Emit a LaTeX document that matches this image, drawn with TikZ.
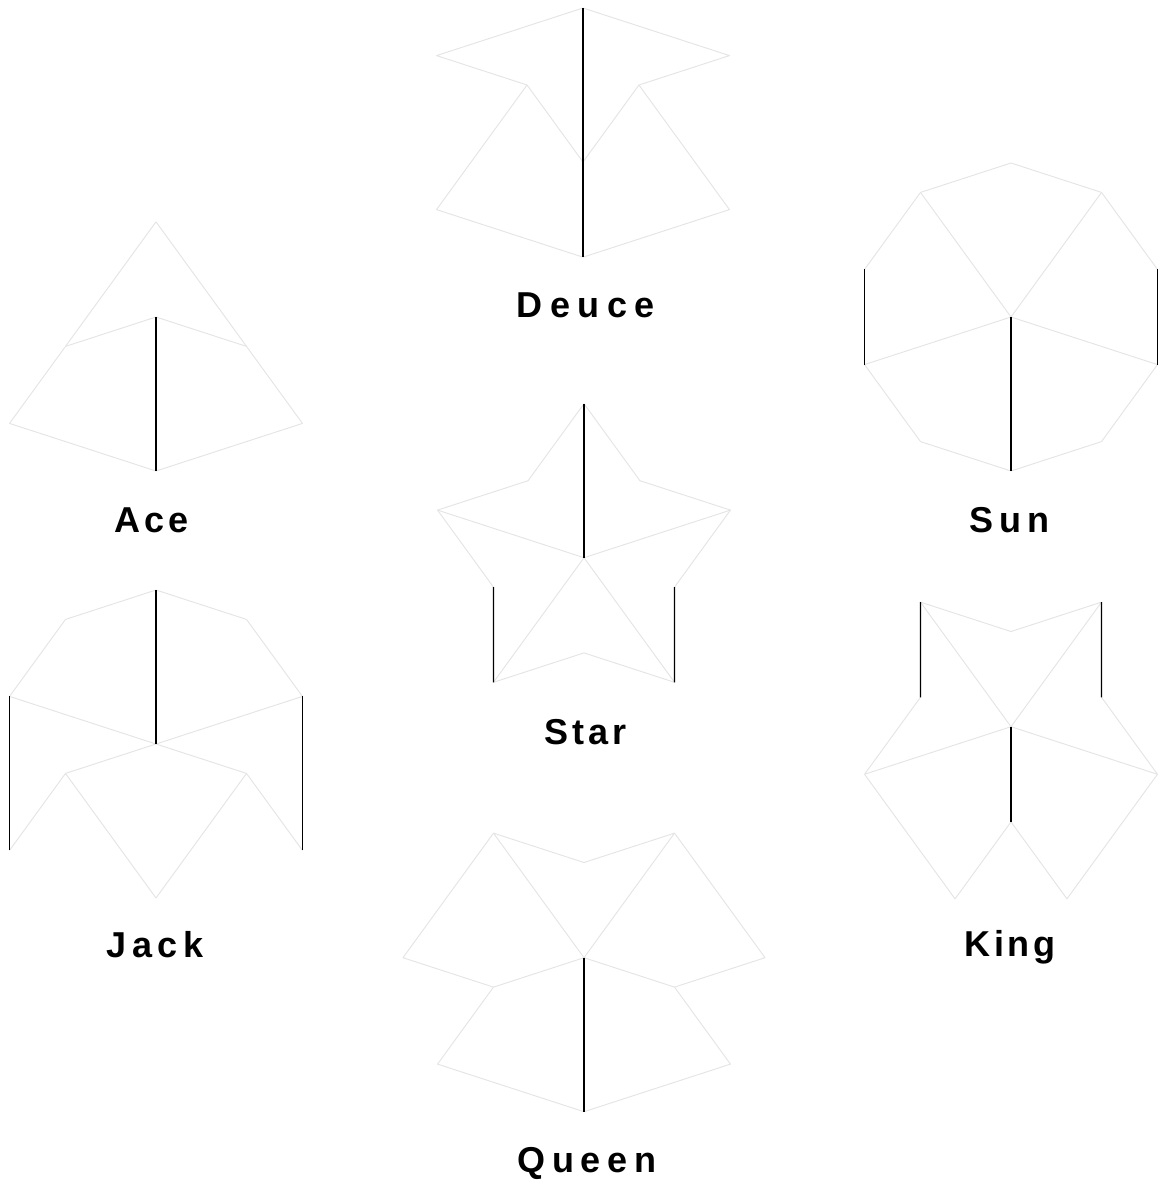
\documentclass[tikz,border=0pt]{standalone}
\usepackage{fontspec}
\setmainfont{Liberation Sans}
\usetikzlibrary{calc}
\definecolor{edgegray}{RGB}{228,228,228}
\begin{document}
\begin{tikzpicture}[x=1pt,y=1pt,
  tile/.style={draw=edgegray,line width=0.9pt,line join=round},
  blackedge/.style={draw=black,line width=1.2pt},
  lab/.style={anchor=base,inner sep=0pt,font=\fontsize{36}{42}\selectfont\bfseries}]
\def\L{154}
\def\S{95.18}
\useasboundingbox (0,-1184) rectangle (1160,0);
\fill[white] (0,-1184) rectangle (1160,0);

% ---------------- Ace ----------------
\coordinate (aC) at (156,-317);
\coordinate (aD) at ($(aC)+(270:\L)$);
\coordinate (aAL) at ($(aC)+(198:\S)$);
\coordinate (aAR) at ($(aC)+(342:\S)$);
\coordinate (aBL) at ($(aD)+(162:\L)$);
\coordinate (aBR) at ($(aD)+(18:\L)$);
\coordinate (aT) at ($(aC)+(90:\S)$);
\draw[tile] (aC)--(aAL)--(aBL)--(aD);
\draw[tile] (aC)--(aAR)--(aBR)--(aD);
\draw[tile] (aAL)--(aT)--(aAR);
\draw[blackedge] (aC)--(aD);

% ---------------- Deuce ----------------
\coordinate (dV) at (583,-162);
\coordinate (dT) at ($(dV)+(90:\L)$);
\coordinate (dDL) at ($(dT)+(198:\L)$);
\coordinate (dDR) at ($(dT)+(342:\L)$);
\coordinate (dCL) at ($(dV)+(126:\S)$);
\coordinate (dCR) at ($(dV)+(54:\S)$);
\coordinate (dKL) at ($(dV)+(198:\L)$);
\coordinate (dKR) at ($(dV)+(342:\L)$);
\coordinate (dB) at ($(dV)+(270:\S)$);
\draw[tile] (dT)--(dDL)--(dCL)--(dV);
\draw[tile] (dT)--(dDR)--(dCR)--(dV);
\draw[tile] (dCL)--(dKL)--(dB);
\draw[tile] (dCR)--(dKR)--(dB);
\draw[blackedge] (dV)--(dT);
\draw[blackedge] (dV)--(dB);

% ---------------- Sun ----------------
\coordinate (sV) at (1011,-317);
\foreach \a in {18,54,...,342} {\coordinate (s\a) at ($(sV)+(\a:\L)$);}
\draw[tile] (s18)--(s54)--(s90)--(s126)--(s162)--(s198)--(s234)--(s270)--(s306)--(s342)--cycle;
\foreach \a in {342,54,126,198} {\draw[tile] (sV)--(s\a);}
\draw[blackedge] (sV)--(s270);
\draw[blackedge] (s162)--(s198);
\draw[blackedge] (s18)--(s342);

% ---------------- Star ----------------
\coordinate (tV) at (584,-557.7);
\foreach \a in {18,90,162,234,306} {\coordinate (t\a) at ($(tV)+(\a:\L)$);}
\foreach \a in {54,126,198,270,342} {\coordinate (t\a) at ($(tV)+(\a:\S)$);}
\draw[tile] (t90)--(t126)--(t162)--(t198)--(t234)--(t270)--(t306)--(t342)--(t18)--(t54)--cycle;
\foreach \a in {18,162,234,306} {\draw[tile] (tV)--(t\a);}
\draw[blackedge] (tV)--(t90);
\draw[blackedge] (t198)--(t234);
\draw[blackedge] (t342)--(t306);

% ---------------- Jack ----------------
\coordinate (jV) at (156,-744);
\coordinate (jT) at ($(jV)+(90:\L)$);
\coordinate (jFL) at ($(jV)+(126:\L)$);
\coordinate (jFR) at ($(jV)+(54:\L)$);
\coordinate (jEL) at ($(jV)+(162:\L)$);
\coordinate (jER) at ($(jV)+(18:\L)$);
\coordinate (jBL) at ($(jEL)+(270:\L)$);
\coordinate (jBR) at ($(jER)+(270:\L)$);
\coordinate (jCL) at ($(jV)+(198:\S)$);
\coordinate (jCR) at ($(jV)+(342:\S)$);
\coordinate (jK) at ($(jV)+(270:\L)$);
\draw[tile] (jT)--(jFL)--(jEL)--(jV)--(jER)--(jFR)--(jT);
\draw[tile] (jBL)--(jCL)--(jK)--(jCR)--(jBR);
\draw[tile] (jCL)--(jV)--(jCR);
\draw[blackedge] (jV)--(jT);
\draw[blackedge] (jEL)--(jBL);
\draw[blackedge] (jER)--(jBR);

% ---------------- Queen ----------------
\coordinate (qV) at (584,-957.7);
\coordinate (qL1) at ($(qV)+(126:\L)$);
\coordinate (qR1) at ($(qV)+(54:\L)$);
\coordinate (qTc) at ($(qV)+(90:\S)$);
\coordinate (qL2) at ($(qV)+(198:\S)$);
\coordinate (qR2) at ($(qV)+(342:\S)$);
\coordinate (qWL) at ($(qL1)+(234:\L)$);
\coordinate (qWR) at ($(qR1)+(306:\L)$);
\coordinate (qB) at ($(qV)+(270:\L)$);
\coordinate (qXL) at ($(qB)+(162:\L)$);
\coordinate (qXR) at ($(qB)+(18:\L)$);
\draw[tile] (qV)--(qL1)--(qTc)--(qR1)--(qV);
\draw[tile] (qL1)--(qWL)--(qL2)--(qV);
\draw[tile] (qR1)--(qWR)--(qR2)--(qV);
\draw[tile] (qL2)--(qXL)--(qB);
\draw[tile] (qR2)--(qXR)--(qB);
\draw[blackedge] (qV)--(qB);

% ---------------- King ----------------
\coordinate (kV) at (1011,-726.7);
\coordinate (kL1) at ($(kV)+(126:\L)$);
\coordinate (kR1) at ($(kV)+(54:\L)$);
\coordinate (kTc) at ($(kV)+(90:\S)$);
\coordinate (kEL) at ($(kV)+(198:\L)$);
\coordinate (kER) at ($(kV)+(342:\L)$);
\coordinate (kCL) at ($(kV)+(162:\S)$);
\coordinate (kCR) at ($(kV)+(18:\S)$);
\coordinate (kB) at ($(kV)+(270:\S)$);
\coordinate (kXL) at ($(kEL)+(306:\L)$);
\coordinate (kXR) at ($(kER)+(234:\L)$);
\draw[tile] (kV)--(kL1)--(kTc)--(kR1)--(kV);
\draw[tile] (kCL)--(kEL)--(kV)--(kER)--(kCR);
\draw[tile] (kEL)--(kXL)--(kB);
\draw[tile] (kER)--(kXR)--(kB);
\draw[blackedge] (kV)--(kB);
\draw[blackedge] (kL1)--(kCL);
\draw[blackedge] (kR1)--(kCR);

% ---------------- Labels ----------------
\node[lab] (lDeuce) at (586,-317) {D\kern7.5pt e\kern7.5pt u\kern7.5pt c\kern7.5pt e};
\node[lab] (lAce) at (152,-532) {A\kern4pt c\kern4pt e};
\node[lab] (lSun) at (1009,-532) {S\kern6pt u\kern6pt n};
\node[lab] (lStar) at (585.5,-744) {S\kern4pt t\kern4pt a\kern4pt r};
\node[lab] (lJack) at (155,-957) {J\kern5.5pt a\kern5.5pt c\kern5.5pt k};
\node[lab] (lKing) at (1010,-956) {K\kern3.5pt i\kern3.5pt n\kern3.5pt g};
\node[lab] (lQueen) at (587,-1172) {Q\kern6.5pt u\kern6.5pt e\kern6.5pt e\kern6.5pt n};
\end{tikzpicture}
\end{document}
